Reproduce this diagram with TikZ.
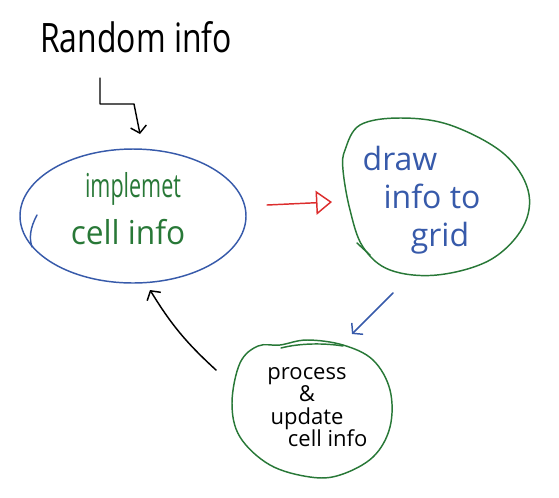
\documentclass[tikz,border=0pt]{standalone}
\usepackage{fontspec}
\usepackage{graphicx}
\setmainfont{Open Sans}
\usetikzlibrary{shapes.geometric,arrows.meta}
\definecolor{penblue}{RGB}{55,90,170}
\definecolor{pengreen}{RGB}{40,120,55}
\definecolor{penred}{RGB}{220,45,45}
\begin{document}
\begin{tikzpicture}[x=0.75pt,y=-0.75pt,line cap=round,line join=round,
  pen/.style={line width=1.1pt},
  hand/.style={font=\fontsize{19}{22}\selectfont,inner sep=0pt},
  vtip/.style={-{Straight Barb[length=5pt,width=12pt,line width=1.1pt]}},
  otip/.style={-{Triangle[open,length=12pt,width=18pt,line width=1.1pt]}}]
\useasboundingbox (0,0) rectangle (559,497);
% title
\node[hand] (title) at (136,37) {\scalebox{1.26}[1.6]{Random info}};
% node 1: blue ellipse
\node[ellipse,draw=penblue,pen,minimum width=169.5pt,minimum height=100.5pt,inner sep=0pt] (impl) at (133,216) {};
\draw[penblue,pen] (37,215) .. controls (30,228) and (29,238) .. (32,247);
\node[hand,text=pengreen] (impl1) at (133,189) {\scalebox{0.85}[1.3]{implemet}};
\node[hand,text=pengreen] (impl2) at (128,232) {\scalebox{1.25}[1.3]{cell info}};
% node 2: green blob
\draw[pengreen,pen] plot[smooth cycle,tension=0.6] coordinates {(345,150) (360,125) (400,118) (450,125) (503,153) (528,190) (523,227) (490,260) (437,275) (390,270) (363,247) (350,210) (343,170)};
\draw[pengreen,pen] (357,243) -- (370,255);
\node[inner sep=0pt,text=penblue,align=center,
  font={\fontsize{24}{28.5}\selectfont\lineskiplimit=-100pt}] (draw1) at (432,200) {\hspace*{0pt}draw\hspace*{48pt}\\info to\\\hspace*{12pt}grid};
% node 3: green blob
\draw[pengreen,pen] plot[smooth cycle,tension=0.6] coordinates {(280,345) (307,340) (343,345) (373,360) (390,390) (390,427) (373,457) (340,475) (310,477) (270,465) (240,437) (232,403) (240,363) (258,346)};
\draw[pengreen,pen] (281,348) .. controls (300,343) and (325,343) .. (343,346);
\node[inner sep=0pt,text=black,align=center,
  font={\fontsize{16.5}{16.8}\selectfont\lineskiplimit=-100pt}] (proc) at (307,407) {process\\\&\\update\\\hspace*{31pt}cell info};
% connectors
\coordinate (a0) at (100,78);
\coordinate (a1) at (100,104);
\coordinate (a2) at (134,104);
\coordinate (a3) at (140,134);
\draw[black,pen,vtip] (a0) -- (a1) -- (a2) -- (a3);
\coordinate (r0) at (267,205);
\coordinate (r1) at (332,202);
\draw[penred,pen,otip] (r0) -- (r1);
\coordinate (b0) at (393,293);
\coordinate (b1) at (352,334);
\draw[penblue,pen,vtip] (b0) -- (b1);
\coordinate (c0) at (216,370);
\coordinate (c1) at (150,290);
\draw[black,pen,vtip] (c0) to[bend left=8] (c1);
\end{tikzpicture}
\end{document}
